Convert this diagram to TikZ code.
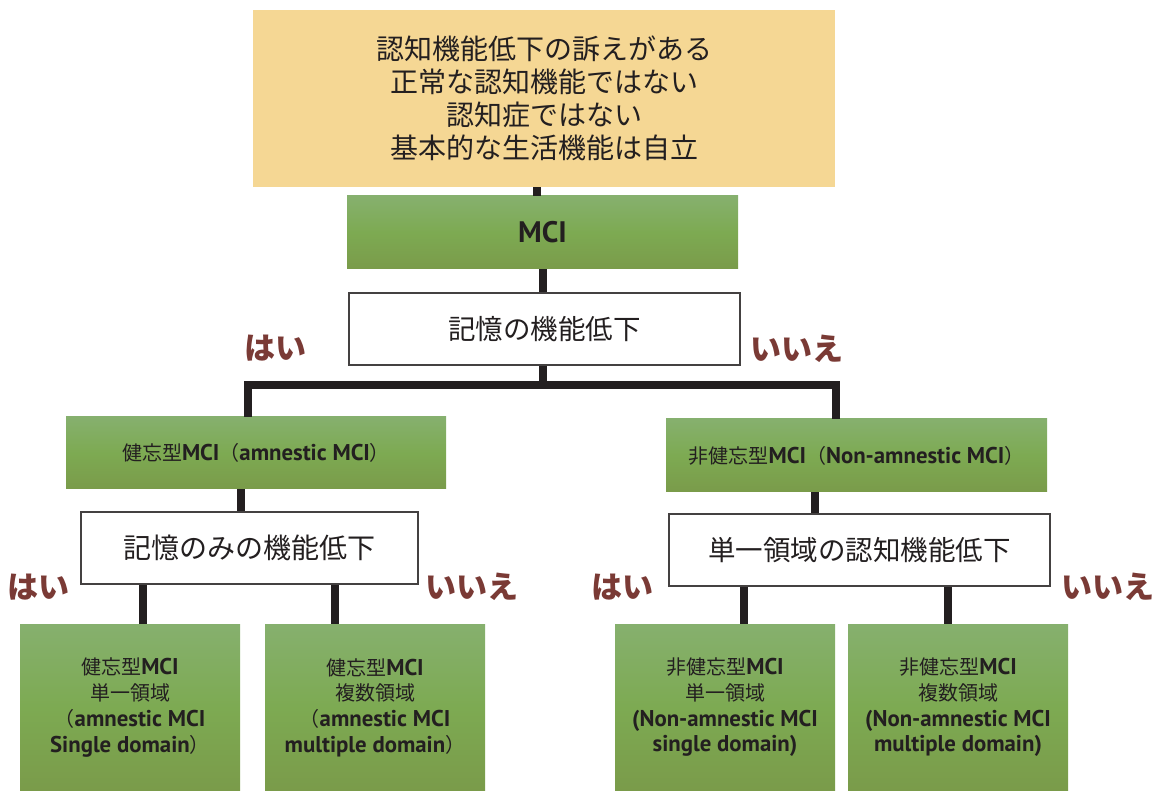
\documentclass[tikz,border=0pt]{standalone}
\usepackage{fontspec}
\setmainfont{Noto Sans CJK JP}
\newfontfamily\lat[Scale=1.14]{PT Sans}
\newcommand{\bt}[1]{{\lat\bfseries #1}}
\definecolor{tanfill}{HTML}{F5D794}
\definecolor{gtop}{HTML}{86B06E}
\definecolor{gmid}{HTML}{7DAA52}
\definecolor{gbot}{HTML}{7A9B4A}
\definecolor{ink}{HTML}{231F20}
\definecolor{yn}{HTML}{7A3A35}
\tikzset{
  x=1pt, y=-1pt,
  base/.style={inner sep=0pt, align=center, text=ink},
  tanbox/.style={base, fill=tanfill},
  greenbox/.style={base, top color=gtop, bottom color=gbot, middle color=gmid},
  qbox/.style={base, fill=white, draw=ink!85, line width=1.6pt},
  conn/.style={draw=ink, line width=8pt, line join=miter},
  ynlab/.style={text=yn, font=\fontsize{31}{34}\selectfont\bfseries, inner sep=0pt},
}
\begin{document}
\begin{tikzpicture}
\useasboundingbox (0,0) rectangle (1160,791);
% boxes
\node[tanbox, minimum width=582, minimum height=177,
  font=\fontsize{28}{33}\selectfont] (top) at (544,98.5)
  {認知機能低下の訴えがある\\正常な認知機能ではない\\認知症ではない\\基本的な生活機能は自立};
\node[greenbox, minimum width=391, minimum height=73] (mci) at (542.5,232.5)
  {\fontsize{26}{30}\selectfont\bt{MCI}};
\node[qbox, minimum width=391, minimum height=72,
  font=\fontsize{27.5}{30}\selectfont] (mem) at (544.5,329) {記憶の機能低下};
\node[greenbox, minimum width=380, minimum height=72,
  font=\fontsize{20}{24}\selectfont] (lg) at (256,453)
  {健忘型\bt{MCI}（\bt{amnestic MCI}）};
\node[greenbox, minimum width=381, minimum height=73,
  font=\fontsize{20}{24}\selectfont] (rg) at (856.5,455.5)
  {非健忘型\bt{MCI}（\bt{Non-amnestic MCI}）};
\node[qbox, minimum width=337, minimum height=72,
  font=\fontsize{28}{30}\selectfont] (memonly) at (249.5,548) {記憶のみの機能低下};
\node[qbox, minimum width=381, minimum height=72,
  font=\fontsize{27.5}{30}\selectfont] (single) at (859.5,550) {単一領域の認知機能低下};
\node[greenbox, minimum width=220, minimum height=167,
  font=\fontsize{20}{25.7}\selectfont] (l1) at (130,707.5)
  {健忘型\bt{MCI}\\単一領域\\ （\bt{amnestic MCI}\\\bt{Single domain}）};
\node[greenbox, minimum width=220, minimum height=167,
  font=\fontsize{20}{25.7}\selectfont] (l2) at (375,707.5)
  {健忘型\bt{MCI}\\複数領域\\ （\bt{amnestic MCI}\\\bt{multiple domain}）};
\node[greenbox, minimum width=220, minimum height=167,
  font=\fontsize{20}{25.7}\selectfont] (r1) at (725,707.5)
  {非健忘型\bt{MCI}\\単一領域\\\bt{(Non-amnestic MCI}\\\bt{single domain)}};
\node[greenbox, minimum width=220, minimum height=167,
  font=\fontsize{20}{25.7}\selectfont] (r2) at (958,707.5)
  {非健忘型\bt{MCI}\\複数領域\\\bt{(Non-amnestic MCI}\\\bt{multiple domain)}};
% labels
\node[ynlab] (y1) at (275,348) {はい};
\node[ynlab] (n1) at (797,349) {いいえ};
\node[ynlab] (y2) at (38,587) {はい};
\node[ynlab] (n2) at (472,587) {いいえ};
\node[ynlab] (y3) at (622,587) {はい};
\node[ynlab] (n3) at (1108,587) {いいえ};
% connectors
\coordinate (bar) at (543,385);
\draw[conn] ([xshift=-7pt]top.south) -- ([xshift=-7pt]top.south |- mci.north);
\draw[conn] (mci.south) -- (mci.south |- mem.north);
\draw[conn] ([xshift=-1.5pt]mem.south) -- ([xshift=-1.5pt]mem.south |- bar);
\draw[conn] ([xshift=-8pt]lg.north) |- (bar) -| ([xshift=-20.5pt]rg.north);
\draw[conn] ([xshift=-15pt]lg.south) -- ([xshift=-15pt]lg.south |- memonly.north);
\draw[conn] ([xshift=-41.5pt]rg.south) -- ([xshift=-41.5pt]rg.south |- single.north);
\draw[conn] ([xshift=13pt]l1.north) -- ([xshift=13pt]l1.north |- memonly.south);
\draw[conn] ([xshift=-40pt]l2.north) -- ([xshift=-40pt]l2.north |- memonly.south);
\draw[conn] ([xshift=19pt]r1.north) -- ([xshift=19pt]r1.north |- single.south);
\draw[conn] ([xshift=-10pt]r2.north) -- ([xshift=-10pt]r2.north |- single.south);
\end{tikzpicture}
\end{document}
